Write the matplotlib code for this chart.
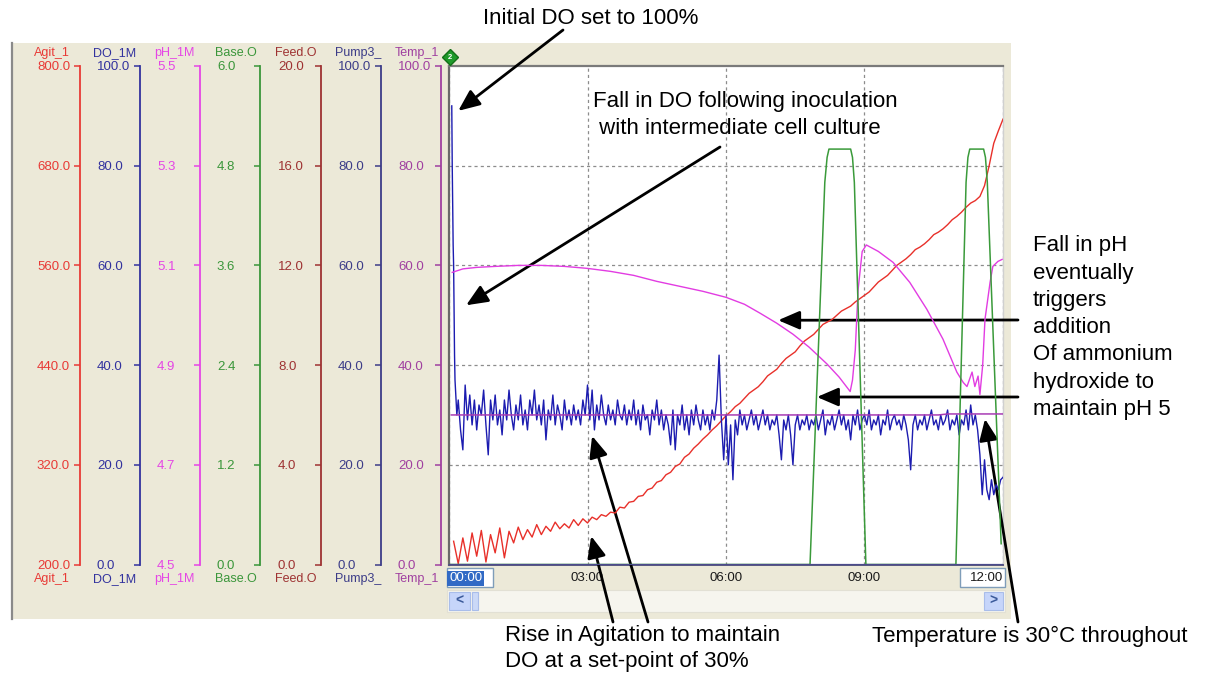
import numpy as np
import matplotlib
matplotlib.use("Agg")
import matplotlib.pyplot as plt
from matplotlib.patches import Rectangle
from matplotlib.lines import Line2D

plt.rcParams['font.family'] = ['Liberation Sans', 'DejaVu Sans']

# ---------------------------------------------------------------- data
time_ticks = [0, 3, 6, 9, 12]
time_labels = ['00:00', '03:00', '06:00', '09:00', '12:00']

# dissolved oxygen (%): fast fall after inoculation, then sampled every 0.05 h
do_head_t = [0.06, 0.07, 0.09, 0.10, 0.12, 0.13, 0.17]
do_head_v = [92, 80, 64, 60, 42, 37, 30]
do_vals = [
    33, 27, 23, 36, 29, 34, 28, 33, 27, 32, 30, 35, 28, 22, 33, 29,
    34, 28, 31, 26, 33, 29, 35, 30, 27, 32, 29, 34, 28, 31, 27, 33, 30, 35, 29, 32,
    28, 33, 25, 31, 29, 34, 28, 32, 30, 27, 33, 29, 31, 28, 32, 29, 31, 28, 33, 30,
    36, 29, 35, 27, 32, 29, 34, 30, 28, 32, 29, 31, 28, 33, 30, 29, 32, 28, 31, 29,
    33, 28, 31, 27, 32, 29, 30, 26, 31, 29, 33, 28, 31, 27, 30, 28, 24, 31, 23, 30,
    28, 32, 27, 30, 26, 31, 28, 32, 29, 27, 31, 28, 30, 27, 31, 29, 33, 42, 29, 21,
    30, 20, 28, 17, 29, 26, 31, 28, 30, 27, 29, 31, 28, 30, 27, 29, 31, 28, 30, 27,
    29, 28, 30, 26, 21, 29, 27, 30, 26, 20, 28, 30, 27, 29, 28, 30, 27, 29, 28, 30,
    27, 29, 31, 26, 29, 28, 30, 27, 29, 31, 28, 30, 27, 29, 25, 30, 28, 31, 27, 29,
    30, 28, 31, 27, 29, 28, 30, 26, 29, 28, 31, 27, 29, 30, 28, 29, 27, 30, 28, 25,
    19, 28, 30, 27, 29, 28, 30, 27, 29, 31, 28, 29, 27, 30, 28, 29, 31, 27, 29, 28,
    30, 26, 29, 28, 31, 27, 32, 28, 30, 27, 22, 14, 21, 15, 13, 17, 14, 16, 15, 17,
    17.5]

# agitation (rpm), sampled every 0.1 h from 0.1 h
agit_vals = [
    228, 201, 232, 204, 238, 210, 241, 203, 236, 214, 244, 208, 240, 226, 245,
    230, 242, 233, 248, 236, 246, 240, 251, 243, 249, 244, 254, 247, 255, 250,
    257, 254, 260, 258, 263, 262, 269, 268, 275, 276, 282, 283, 290, 292, 299,
    301, 308, 311, 318, 321, 329, 333, 340, 345, 351, 356, 362, 367, 373, 379,
    384, 390, 394, 400, 406, 410, 414, 420, 427, 431, 435, 442, 448, 452, 456,
    463, 469, 473, 477, 483, 489, 492, 495, 500, 505, 508, 511, 516, 520, 524,
    528, 534, 540, 544, 548, 554, 560, 564, 568, 573, 579, 582, 586, 591, 597,
    600, 604, 609, 615, 619, 624, 630, 635, 638, 643, 656, 680, 707, 722, 736]

ph_t = [0.07, 0.3, 0.6, 1.0, 1.5, 2.0, 2.5, 3.0, 3.5, 4.0, 4.5, 5.0, 5.5, 6.0,
        6.4, 6.74, 7.1, 7.45, 7.8, 8.19, 8.45, 8.69, 8.74, 8.8, 8.86, 8.95,
        9.04, 9.3, 9.62, 9.98, 10.35, 10.7, 11.0, 11.14, 11.22, 11.33, 11.39,
        11.46, 11.50, 11.56, 11.61, 11.72, 11.78, 11.89, 11.98]
ph_v = [5.086, 5.093, 5.096, 5.098, 5.100, 5.100, 5.098, 5.094, 5.088, 5.080,
        5.068, 5.058, 5.048, 5.036, 5.022, 5.004, 4.984, 4.962, 4.936, 4.902,
        4.876, 4.847, 4.870, 4.930, 5.050, 5.128, 5.141, 5.128, 5.106, 5.066,
        5.012, 4.952, 4.886, 4.865, 4.857, 4.886, 4.857, 4.878, 4.841, 4.900,
        4.992, 5.066, 5.098, 5.108, 5.112]

base_t = [0.0, 7.82, 8.14, 8.19, 8.23, 8.70, 8.74, 8.78, 9.03,
          10.98, 11.20, 11.24, 11.28, 11.58, 11.62, 11.66, 11.96]
base_v = [0, 0, 4.6, 4.9, 5.0, 5.0, 4.9, 4.6, 0,
          0, 4.6, 4.9, 5.0, 5.0, 4.9, 4.6, 0.25]

feed_t = [0.0, 12.0]
feed_v = [0.0, 0.0]
pump_t = [0.0, 12.0]
pump_v = [0.0, 0.0]
temp_t = [0.05, 10.6, 10.8, 12.0]
temp_v = [30.0, 30.0, 30.2, 30.2]

# channel name, colour, scale min, scale max, spine x (px), header centre (px)
channels = [
    ('Agit_1', '#E83A36', 200.0, 800.0, 80, 52),
    ('DO_1M', '#32329E', 0.0, 100.0, 140, 115),
    ('pH_1M', '#E546E5', 4.5, 5.5, 200, 174),
    ('Base.O', '#3A963A', 0.0, 6.0, 260, 236),
    ('Feed.O', '#9E3232', 0.0, 20.0, 321, 296),
    ('Pump3_', '#3C3C88', 0.0, 100.0, 381, 358),
    ('Temp_1', '#A040A0', 0.0, 100.0, 441, 417),
]

# ---------------------------------------------------------------- layout
W, H = 1208, 677
fig = plt.figure(figsize=(W / 100, H / 100), dpi=100)
fig.patch.set_facecolor('white')


def fx(x):
    return x / W


def fy(y):
    return 1 - y / H


PL, PR, PT, PB = 449, 1003, 66, 564.5
rect = [fx(PL), fy(PB), (PR - PL) / W, (PB - PT) / H]

# trend-window panel
fig.add_artist(Rectangle((fx(11), fy(619)), (1011 - 11) / W, (619 - 43) / H,
                         transform=fig.transFigure, fc='#ECE9D8', ec='none',
                         zorder=-10))
fig.add_artist(Line2D([fx(12), fx(12)], [fy(43), fy(619)],
                      transform=fig.transFigure, color='#8A8A8A', lw=1.6,
                      zorder=-9))

# main plot area
ax = fig.add_axes(rect)
ax.set_facecolor('white')
ax.set_xlim(0, 12)
ax.set_ylim(0, 100)
ax.set_yticks([20, 40, 60, 80])
ax.set_xticks(time_ticks)
ax.set_xticklabels(time_labels)
ax.grid(True, color='#8C8C8C', linestyle=(0, (2.5, 2.5)), lw=0.9)
ax.tick_params(axis='y', left=False, labelleft=False)
ax.tick_params(axis='x', length=0, pad=5.5, labelsize=9.5, colors='#1A1A1A')
ax.spines['left'].set_color('#6A6A6A')
ax.spines['left'].set_linewidth(1.6)
ax.spines['top'].set_color('#7A7A7A')
ax.spines['top'].set_linewidth(1.6)
ax.spines['right'].set_color('#D0D0D0')
ax.spines['right'].set_linewidth(1.0)
ax.spines['bottom'].set_color('#55557F')
ax.spines['bottom'].set_linewidth(1.4)
xl = ax.get_xticklabels()
xl[0].set_horizontalalignment('left')
xl[0].set_color('white')
xl[0].set_bbox(dict(boxstyle='square,pad=0.12', fc='#316AC5', ec='none'))
xl[-1].set_horizontalalignment('right')

# boxes around the first / last time stamps
for x0, x1 in [(447, 493), (960, 1005)]:
    fig.add_artist(Rectangle((fx(x0), fy(587)), (x1 - x0) / W, 19 / H,
                             transform=fig.transFigure, fc='white',
                             ec='#7F9DB9', lw=1.0, zorder=-5))

# scroll bar
fig.add_artist(Rectangle((fx(447), fy(612)), (1005 - 447) / W, 22 / H,
                         transform=fig.transFigure, fc='#F6F5EE',
                         ec='#E2E0D4', lw=0.8, zorder=-5))
for x0, x1, glyph in [(449, 470, '<'), (984, 1003, '>')]:
    fig.add_artist(Rectangle((fx(x0), fy(610)), (x1 - x0) / W, 18 / H,
                             transform=fig.transFigure, fc='#C6D5FA',
                             ec='#A9BDEA', lw=0.8, zorder=-4))
    fig.text(fx((x0 + x1) / 2), fy(601), glyph, ha='center', va='center',
             fontsize=10, fontweight='bold', color='#3B5A9A', zorder=-3)
fig.add_artist(Rectangle((fx(472), fy(610)), 6 / W, 18 / H,
                         transform=fig.transFigure, fc='#CBD9F7',
                         ec='#A9BDEA', lw=0.8, zorder=-4))

# cursor marker
fig.add_artist(Line2D([fx(450)], [fy(57)], transform=fig.transFigure,
                      marker='D', ms=8, color='#1E9A2A', mec='#127018', ls=''))
fig.text(fx(450), fy(57.5), '2', ha='center', va='center', fontsize=5.5,
         color='white', fontweight='bold')

# scale axes down the left of the panel
for name, color, lo, hi, sx, cx in channels:
    a = fig.add_axes([fx(sx), fy(PB), 0.0001, (PB - PT) / H])
    a.patch.set_visible(False)
    for s in ['top', 'right', 'bottom']:
        a.spines[s].set_visible(False)
    a.spines['left'].set_color(color)
    a.spines['left'].set_linewidth(1.3)
    a.set_xticks([])
    a.set_ylim(lo, hi)
    ticks = np.linspace(lo, hi, 6)
    a.set_yticks(ticks)
    a.set_yticklabels([f'{v:.1f}' for v in ticks])
    a.tick_params(axis='y', colors=color, length=4.6, width=1.1, pad=26.4,
                  labelsize=9.5)
    for lab in a.get_yticklabels():
        lab.set_horizontalalignment('left')
    fig.text(fx(cx), fy(53), name, ha='center', va='center', fontsize=9,
             color=color)
    fig.text(fx(cx), fy(579), name, ha='center', va='center', fontsize=9,
             color=color)


def overlay(lo, hi):
    o = fig.add_axes(rect, sharex=ax)
    o.set_ylim(lo, hi)
    o.axis('off')
    o.patch.set_visible(False)
    return o


agit_t = np.round(np.arange(0.1, 12.001, 0.1), 2)
do_t = np.concatenate([do_head_t, np.round(np.arange(0.20, 12.001, 0.05), 2)])
do_v = np.concatenate([do_head_v, do_vals])

overlay(200, 800).plot(agit_t, agit_vals, color='#E8302A', lw=1.0)
overlay(0, 100).plot(do_t, do_v, color='#1C1CB0', lw=1.0)
overlay(4.5, 5.5).plot(ph_t, ph_v, color='#E23CE2', lw=1.0)
overlay(0, 6).plot(base_t, base_v, color='#3A9A3A', lw=1.1)
overlay(0, 20).plot(feed_t, feed_v, color='#9E3232', lw=1.0)
overlay(0, 100).plot(pump_t, pump_v, color='#4B4B8C', lw=1.6)
overlay(0, 100).plot(temp_t, temp_v, color='#A83CB4', lw=1.1)

# ---------------------------------------------------------------- notes
note = dict(fontsize=16, color='black', ha='left', va='center')
fig.text(fx(483), fy(18), 'Initial DO set to 100%', **note)
fig.text(fx(593), fy(101), 'Fall in DO following inoculation', **note)
fig.text(fx(593), fy(129), ' with intermediate cell culture', **note)
for i, line in enumerate(['Fall in pH', 'eventually', 'triggers', 'addition',
                          'Of ammonium', 'hydroxide to', 'maintain pH 5']):
    fig.text(fx(1033), fy(246 + i * 27.2), line, **note)
fig.text(fx(505), fy(636), 'Rise in Agitation to maintain', **note)
fig.text(fx(505), fy(662), 'DO at a set-point of 30%', **note)
fig.text(fx(872), fy(636), 'Temperature is 30\u00b0C throughout', **note)

arrow = dict(arrowstyle='-|>,head_length=0.65,head_width=0.28', color='black',
             lw=2.0, mutation_scale=20, shrinkA=0, shrinkB=0)
pointers = [((563, 30), (0.20, 91.0)),
            ((720, 147), (0.37, 52.0)),
            ((1018, 320), (7.13, 49.0)),
            ((1018, 397), (7.97, 33.6)),
            ((613, 622), (3.08, 5.7)),
            ((648, 622), (3.10, 25.8)),
            ((1018, 622), (11.61, 29.2))]
for (tx, ty), tip in pointers:
    ax.annotate('', xy=tip, xycoords='data', xytext=(fx(tx), fy(ty)),
                textcoords='figure fraction', arrowprops=arrow,
                annotation_clip=False)

fig.savefig('out.png', dpi=100)
